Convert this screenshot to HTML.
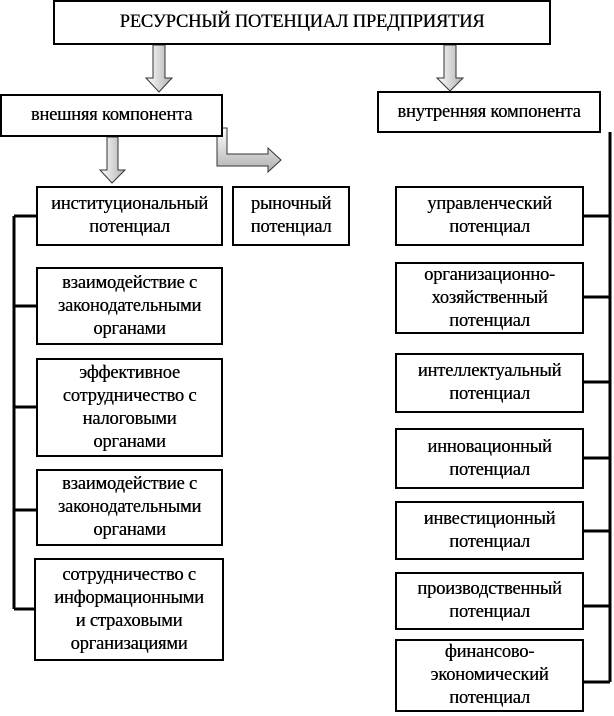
<!DOCTYPE html>
<html><head><meta charset="utf-8"><style>
body{margin:0;width:614px;height:716px;background:#fff;position:relative;overflow:hidden;font-family:"Liberation Serif",serif;color:#000}
.b{position:absolute;box-sizing:border-box;border:2px solid #000;background:#fff;display:flex;align-items:center;justify-content:center;text-align:center;font-size:18.5px;line-height:23px;letter-spacing:-0.2px;white-space:nowrap;text-shadow:0.3px 0 0 #000}
svg{position:absolute;left:0;top:0}
</style></head><body>
<svg width="614" height="716">
<defs><linearGradient id="g" x1="0" x2="1" y1="0" y2="0"><stop offset="0" stop-color="#fff"/><stop offset="1" stop-color="#b0b0b0"/></linearGradient>
<linearGradient id="gv" x1="0" x2="0" y1="0" y2="1"><stop offset="0" stop-color="#fff"/><stop offset="1" stop-color="#b0b0b0"/></linearGradient></defs>
<g fill="url(#g)" stroke="#333" stroke-width="1">
<path d="M153,45 H165 V78 H172 L159,92 L146,78 H153 Z"/>
<path d="M444,45 H456 V78 H463 L450,91 L437,78 H444 Z"/>
<path d="M107,137 H118 V170 H125 L112,183 L100,170 H107 Z"/>
<path d="M217,128 H227 V154 H268 V148 L281,160 L268,172 V166 H217 Z" fill="url(#gv)"/>
</g>
<g stroke="#000" stroke-width="3" fill="none">
<path d="M14,216 H36 M14,216 V609 M14,306 H36 M14,407 H36 M14,510 H36 M14,609 H36"/>
<path d="M610,132 V682 M583,216 H610 M583,297 H610 M583,382 H610 M583,458 H610 M583,531 H610 M583,606 H610 M583,682 H610"/>
</g>
</svg>
<div class="b" style="left:53px;top:0;width:498px;height:45px">РЕСУРСНЫЙ ПОТЕНЦИАЛ ПРЕДПРИЯТИЯ</div>
<div class="b" style="left:0;top:94px;width:223px;height:43px">внешняя компонента</div>
<div class="b" style="left:377px;top:91px;width:224px;height:42px">внутренняя компонента</div>
<div class="b" style="left:36px;top:186px;width:187px;height:60px">институциональный<br>потенциал</div>
<div class="b" style="left:232px;top:186px;width:118px;height:60px">рыночный<br>потенциал</div>
<div class="b" style="left:36px;top:267px;width:187px;height:78px">взаимодействие с<br>законодательными<br>органами</div>
<div class="b" style="left:36px;top:358px;width:187px;height:99px">эффективное<br>сотрудничество с<br>налоговыми<br>органами</div>
<div class="b" style="left:36px;top:469px;width:187px;height:77px">взаимодействие с<br>законодательными<br>органами</div>
<div class="b" style="left:34px;top:558px;width:190px;height:103px">сотрудничество с<br>информационными<br>и страховыми<br>организациями</div>
<div class="b" style="left:395px;top:186px;width:189px;height:60px">управленческий<br>потенциал</div>
<div class="b" style="left:395px;top:262px;width:189px;height:72px">организационно-<br>хозяйственный<br>потенциал</div>
<div class="b" style="left:395px;top:353px;width:189px;height:60px">интеллектуальный<br>потенциал</div>
<div class="b" style="left:395px;top:428px;width:189px;height:61px">инновационный<br>потенциал</div>
<div class="b" style="left:395px;top:501px;width:189px;height:59px">инвестиционный<br>потенциал</div>
<div class="b" style="left:395px;top:572px;width:189px;height:58px">производственный<br>потенциал</div>
<div class="b" style="left:395px;top:639px;width:189px;height:73px">финансово-<br>экономический<br>потенциал</div>
</body></html>
